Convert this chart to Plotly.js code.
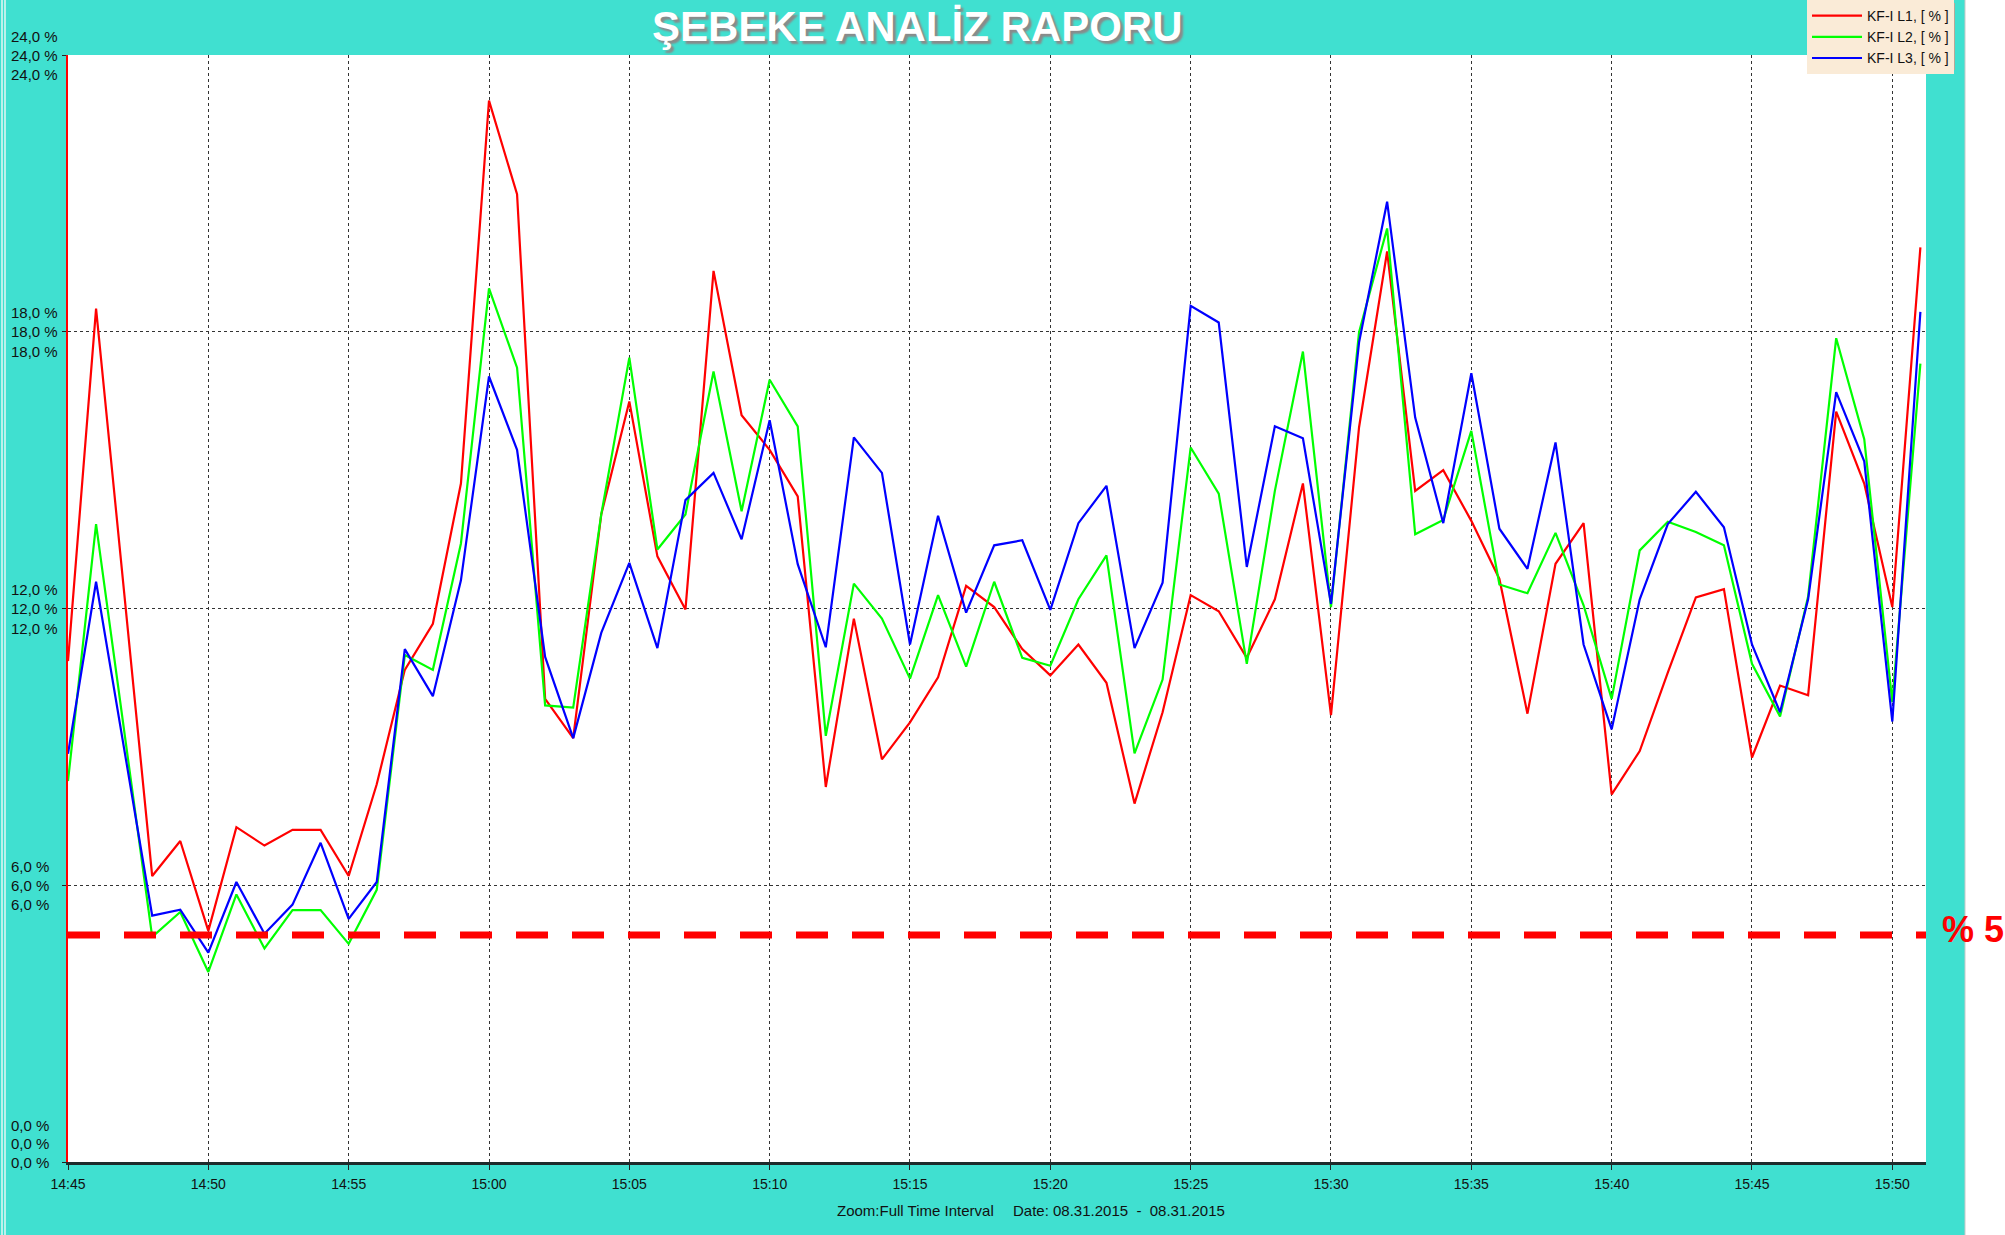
<!DOCTYPE html>
<html>
<head>
<meta charset="utf-8">
<title>ŞEBEKE ANALİZ RAPORU</title>
<script src="https://cdn.plot.ly/plotly-3.0.1.min.js"></script>
<style>
  html, body { margin: 0; padding: 0; background: #40E0D0; overflow: hidden; }
  #plot { width: 2005px; height: 1235px; }
</style>
</head>
<body>
<div id="plot"></div>
<script>
// Sample times (14:47 has no record)
const reportDate = '2015-08-31';
const times = [
  '14:45', '14:46', '14:48', '14:49', '14:50', '14:51', '14:52', '14:53', '14:54', '14:55',
  '14:56', '14:57', '14:58', '14:59', '15:00', '15:01', '15:02', '15:03', '15:04', '15:05',
  '15:06', '15:07', '15:08', '15:09', '15:10', '15:11', '15:12', '15:13', '15:14', '15:15',
  '15:16', '15:17', '15:18', '15:19', '15:20', '15:21', '15:22', '15:23', '15:24', '15:25',
  '15:26', '15:27', '15:28', '15:29', '15:30', '15:31', '15:32', '15:33', '15:34', '15:35',
  '15:36', '15:37', '15:38', '15:39', '15:40', '15:41', '15:42', '15:43', '15:44', '15:45',
  '15:46', '15:47', '15:48', '15:49', '15:50', '15:51'
];

// KF-I values, %
const kfL1 = [
  10.86, 18.50, 6.20, 6.96, 5.01, 7.26, 6.86, 7.20, 7.20, 6.20,
  8.19, 10.67, 11.67, 14.71, 23.01, 20.98, 10.04, 9.19, 14.04, 16.49,
  13.13, 11.98, 19.32, 16.19, 15.44, 14.43, 8.13, 11.78, 8.73, 9.53,
  10.51, 12.49, 12.03, 11.12, 10.55, 11.22, 10.39, 7.77, 9.75, 12.29,
  11.94, 10.93, 12.20, 14.71, 9.69, 15.93, 19.74, 14.55, 15.00, 13.90,
  12.64, 9.72, 12.97, 13.85, 7.97, 8.91, 10.61, 12.24, 12.42, 8.77,
  10.33, 10.12, 16.27, 14.71, 12.03, 19.83
];
const kfL2 = [
  8.26, 13.83, 4.88, 5.42, 4.12, 5.80, 4.63, 5.46, 5.46, 4.73,
  5.90, 10.99, 10.67, 13.41, 18.94, 17.22, 9.90, 9.85, 14.04, 17.44,
  13.28, 14.04, 17.14, 14.11, 16.96, 15.95, 9.24, 12.54, 11.78, 10.48,
  12.29, 10.74, 12.58, 10.93, 10.76, 12.20, 13.15, 8.86, 10.46, 15.49,
  14.49, 10.80, 14.55, 17.57, 12.03, 17.99, 20.24, 13.61, 13.92, 15.85,
  12.52, 12.33, 13.64, 12.07, 10.04, 13.26, 13.88, 13.66, 13.37, 10.80,
  9.66, 12.26, 17.86, 15.67, 9.97, 17.31
];
const kfL3 = [
  8.85, 12.58, 5.34, 5.47, 4.54, 6.07, 4.95, 5.58, 6.92, 5.27,
  6.07, 11.12, 10.10, 12.61, 17.03, 15.44, 10.95, 9.19, 11.47, 12.99,
  11.14, 14.35, 14.94, 13.50, 16.08, 12.96, 11.16, 15.71, 14.94, 11.22,
  14.01, 11.91, 13.37, 13.48, 11.97, 13.85, 14.66, 11.14, 12.56, 18.56,
  18.20, 12.90, 15.95, 15.69, 12.10, 17.77, 20.82, 16.14, 13.85, 17.10,
  13.73, 12.86, 15.60, 11.22, 9.38, 12.20, 13.83, 14.53, 13.76, 11.22,
  9.75, 12.20, 16.69, 15.19, 9.55, 18.43
];

const seriesNames = ['KF-I L1, [ % ]', 'KF-I L2, [ % ]', 'KF-I L3, [ % ]'];
const seriesColors = ['#ff0000', '#00ff00', '#0000ff'];

const yTickValues = [0, 6, 12, 18, 24];
const yTickLabels = ['0,0 %', '6,0 %', '12,0 %', '18,0 %', '24,0 %'];
const limitValue = 4.92;      // drawn limit line ("% 5")
const limitLabel = '% 5';

// plot area in page pixels
const W = 2005, H = 1235;
const L = 68, R = 1926, T = 55, B = 1162;
const px2x = px => (px - L) / (R - L);
const py2y = py => (B - py) / (B - T);

const FONT = 'Liberation Sans, Arial, sans-serif';

const xValues = times.map(t => reportDate + ' ' + t);
const traces = [kfL1, kfL2, kfL3].map((vals, i) => ({
  x: xValues,
  y: vals,
  type: 'scatter',
  mode: 'lines',
  name: seriesNames[i],
  line: { color: seriesColors[i], width: 2.2 },
  hoverinfo: 'skip'
}));

// three stacked copies of each y label, as on the original report
const annotations = [];
yTickValues.forEach((v, i) => {
  const offsets = v === 0 ? [37, 18.5, 0] : [19, 0, -19.5];
  offsets.forEach(off => {
    annotations.push({
      xref: 'paper', yref: 'y', x: 0, y: v,
      xanchor: 'left', yanchor: 'middle',
      xshift: 9 - L, yshift: off,
      text: yTickLabels[i], showarrow: false,
      font: { family: FONT, size: 15, color: '#111' }
    });
  });
});

annotations.push({
  xref: 'paper', yref: 'paper', x: px2x(917), y: py2y(27),
  xanchor: 'center', yanchor: 'middle',
  text: '<b>ŞEBEKE ANALİZ RAPORU</b>', showarrow: false,
  font: { family: FONT, size: 42, color: '#ffffff', shadow: '3px 3px 2px #8a8a8a' }
});
annotations.push({
  xref: 'paper', yref: 'y', x: 1, y: limitValue,
  xanchor: 'left', yanchor: 'middle', xshift: 14, yshift: 6,
  text: '<b>' + limitLabel + '</b>', showarrow: false,
  font: { family: FONT, size: 36, color: '#ff0000' }
});
annotations.push({
  xref: 'paper', yref: 'paper', x: px2x(835), y: py2y(1210),
  xanchor: 'left', yanchor: 'middle',
  text: 'Zoom:Full Time Interval', showarrow: false,
  font: { family: FONT, size: 15, color: '#111' }
});
annotations.push({
  xref: 'paper', yref: 'paper', x: px2x(1011), y: py2y(1210),
  xanchor: 'left', yanchor: 'middle',
  text: 'Date: 08.31.2015\u00a0\u00a0-\u00a0\u00a008.31.2015', showarrow: false,
  font: { family: FONT, size: 15, color: '#111' }
});

const shapes = [
  // 5 % limit
  {
    type: 'line', xref: 'paper', yref: 'y', x0: 0, x1: 1, y0: limitValue, y1: limitValue,
    line: { color: '#ff0000', width: 7, dash: '32px,24px' }
  },
  // white strip at right page edge
  {
    type: 'rect', xref: 'paper', yref: 'paper',
    x0: px2x(1965), x1: px2x(W + 5), y0: py2y(H + 5), y1: py2y(-5),
    fillcolor: '#ffffff', line: { color: '#c8c8c8', width: 1 }, layer: 'below'
  },
  // thin frame lines at left page edge
  {
    type: 'line', xref: 'paper', yref: 'paper', x0: px2x(2), x1: px2x(2), y0: py2y(H), y1: py2y(0),
    line: { color: '#e6f7f5', width: 1.5 }
  },
  {
    type: 'line', xref: 'paper', yref: 'paper', x0: px2x(5), x1: px2x(5), y0: py2y(H), y1: py2y(0),
    line: { color: '#e6f7f5', width: 1.5 }
  },
  // legend shadow
  {
    type: 'rect', xref: 'paper', yref: 'paper',
    x0: px2x(1810), x1: px2x(1955), y0: py2y(70), y1: py2y(3),
    fillcolor: '#b3a999', line: { width: 0 }
  }
];

const layout = {
  width: W,
  height: H,
  margin: { l: L, r: W - R, t: T, b: H - B, pad: 0, autoexpand: false },
  paper_bgcolor: '#40E0D0',
  plot_bgcolor: '#ffffff',
  showlegend: true,
  legend: {
    x: px2x(1807), y: py2y(0), xanchor: 'left', yanchor: 'top',
    bgcolor: '#FAEBD7', borderwidth: 0,
    font: { family: FONT, size: 14, color: '#111' },
    itemwidth: 50, tracegroupgap: 0
  },
  xaxis: {
    type: 'date',
    range: [reportDate + ' 14:45:00', reportDate + ' 15:51:12'],
    tick0: reportDate + ' 14:45',
    dtick: 5 * 60 * 1000,
    tickformat: '%H:%M',
    showgrid: true, gridcolor: '#333', griddash: 'dot', gridwidth: 1,
    showline: true, linecolor: '#1d2b2b', linewidth: 2.5,
    ticks: 'outside', ticklen: 5, tickcolor: '#222', tickwidth: 1,
    ticklabelstandoff: 3,
    tickfont: { family: FONT, size: 14, color: '#111' },
    zeroline: false, fixedrange: true
  },
  yaxis: {
    range: [0, 24],
    tickvals: yTickValues,
    showticklabels: false,
    showgrid: true, gridcolor: '#333', griddash: 'dot', gridwidth: 1,
    showline: true, linecolor: '#ff0000', linewidth: 2,
    ticks: 'outside', ticklen: 4, tickcolor: '#222',
    zeroline: false, fixedrange: true
  },
  annotations: annotations,
  shapes: shapes
};

Plotly.newPlot('plot', traces, layout, { displayModeBar: false, staticPlot: true });
</script>
</body>
</html>
